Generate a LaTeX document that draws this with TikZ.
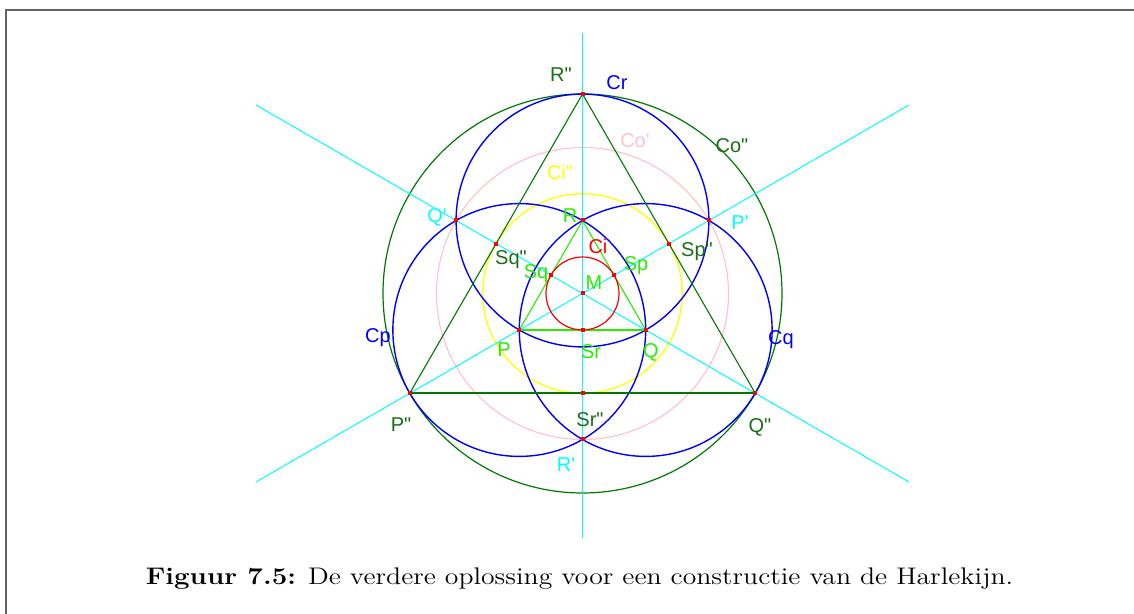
\documentclass[tikz,border=0pt]{standalone}
\usepackage{fontspec}
\newfontfamily\lblfont{Liberation Sans}
\definecolor{cyanL}{RGB}{0,255,255}
\definecolor{blueC}{RGB}{0,0,255}
\definecolor{pinkC}{RGB}{255,192,203}
\definecolor{yellowC}{RGB}{255,255,0}
\definecolor{redC}{RGB}{255,0,0}
\definecolor{dgreen}{RGB}{0,120,0}
\definecolor{dgreenT}{RGB}{25,110,20}
\definecolor{lime}{RGB}{40,235,0}
\definecolor{frameC}{RGB}{100,100,100}
\tikzset{
  lbl/.style={inner sep=0pt, font=\lblfont\fontsize{10}{11}\selectfont, anchor=center},
  lblD/.style={lbl, text=dgreenT},
  lblL/.style={lbl, text=lime},
  lblB/.style={lbl, text=blueC},
  lblC/.style={lbl, text=cyanL},
  axis/.style={draw=cyanL, line width=0.5pt},
  bluecirc/.style={draw=blueC, line width=0.7pt},
}
\newcommand{\qs}{\textquotesingle}
\newcommand{\qd}{\textquotedbl}
\begin{document}
\begin{tikzpicture}[x=0.5pt,y=0.5pt]
\useasboundingbox (-582.5,-320.5) rectangle (551.5,293.5);
\clip (-582.5,-320.5) rectangle (551.5,293.5);
% frame
\draw[frameC, line width=1pt] (-576.5,-340) -- (-576.5,283.5) -- (570,283.5);
% key points
\coordinate (M) at (0,0);
\def\rr{73}
\coordinate (R) at (90:\rr);
\coordinate (P) at (210:\rr);
\coordinate (Q) at (330:\rr);
\coordinate (Rpp) at (90:199.5);
\coordinate (Ppp) at (210:199.5);
\coordinate (Qpp) at (330:199.5);
\coordinate (Pp) at (30:146);
\coordinate (Qp) at (150:146);
\coordinate (Rp) at (270:146);
\coordinate (Spp) at (30:99.75);
\coordinate (Sqpp) at (150:99.75);
\coordinate (Srpp) at (270:99.75);
\coordinate (Sp) at (30:36.5);
\coordinate (Sq) at (150:36.5);
\coordinate (Sr) at (270:36.5);
\coordinate (Vt) at (0,260.5);
\coordinate (Vb) at (0,-244.5);
\coordinate (A1) at (150:377);
\coordinate (A2) at (330:377);
\coordinate (B1) at (30:377);
\coordinate (B2) at (210:377);
% circles
\draw[pinkC, line width=0.55pt] (M) circle[radius=146];
\draw[yellowC, line width=0.65pt] (M) circle[radius=99.75];
\draw[dgreen, line width=0.6pt] (M) circle[radius=199.5];
% axes
\draw[axis] (Vt) -- (Vb);
\draw[axis] (A1) -- (A2);
\draw[axis] (B1) -- (B2);
% blue circles
\draw[bluecirc] (R) circle[radius=126.4];
\draw[bluecirc] (P) circle[radius=126.4];
\draw[bluecirc] (Q) circle[radius=126.4];
% big triangle
\draw[dgreen, line width=0.55pt] (Ppp) -- (Rpp) -- (Qpp);
\draw[dgreen, line width=0.9pt] (Ppp) -- (Qpp);
% small triangle
\draw[lime, line width=0.55pt] (P) -- (R) -- (Q);
\draw[lime, line width=0.9pt] (P) -- (Q);
% incircle
\draw[redC, line width=0.6pt] (M) circle[radius=36.5];
% points
\foreach \pt in {M,R,P,Q,Rpp,Ppp,Qpp,Pp,Qp,Rp,Spp,Sqpp,Srpp,Sp,Sq,Sr}
  \fill[redC] (\pt) ++(-2,-2) rectangle ++(4,4);
% labels
\node[lblD] (lRpp) at (-21.5,218.5) {R\qd};
\node[lblB] (lCr) at (34.5,210.5) {Cr};
\node[lbl, text=pinkC] (lCop) at (52.5,152.5) {Co\qs};
\node[lblD] (lCopp) at (149.5,147.5) {Co\qd};
\node[lbl, text=yellowC] (lCipp) at (-22.5,121.5) {Ci\qd};
\node[lblC] (lQp) at (-145.5,76.5) {Q\qs};
\node[lblL] (lR) at (-12.5,77.5) {R};
\node[lblC] (lPp) at (157.5,70.5) {P\qs};
\node[lbl, text=redC] (lCi) at (15.5,47.5) {Ci};
\node[lblD] (lSqpp) at (-71.5,33.5) {Sq\qd};
\node[lblD] (lSppp) at (114.5,41.5) {Sp\qd};
\node[lblL] (lSq) at (-46.5,19.5) {Sq};
\node[lblL] (lSp) at (53.5,27.5) {Sp};
\node[lblL] (lM) at (11.5,10.5) {M};
\node[lblB] (lCp) at (-204.5,-44.5) {Cp};
\node[lblB] (lCq) at (198.5,-46.5) {Cq};
\node[lblL] (lP) at (-78.5,-56.5) {P};
\node[lblL] (lSr) at (8.5,-58.5) {Sr};
\node[lblL] (lQ) at (68.5,-58.5) {Q};
\node[lblD] (lPpp) at (-181.5,-131.5) {P\qd};
\node[lblD] (lSrpp) at (7.5,-126.5) {Sr\qd};
\node[lblD] (lQpp) at (177.5,-133.5) {Q\qd};
\node[lblC] (lRp) at (-16.5,-171.5) {R\qs};
% caption
\node[inner sep=0pt, xscale=1.155, font=\fontsize{12}{14}\selectfont] (cap) at (-3,-285.5) {\textbf{Figuur 7.5:} De verdere oplossing voor een constructie van de Harlekijn.};
\end{tikzpicture}
\end{document}
